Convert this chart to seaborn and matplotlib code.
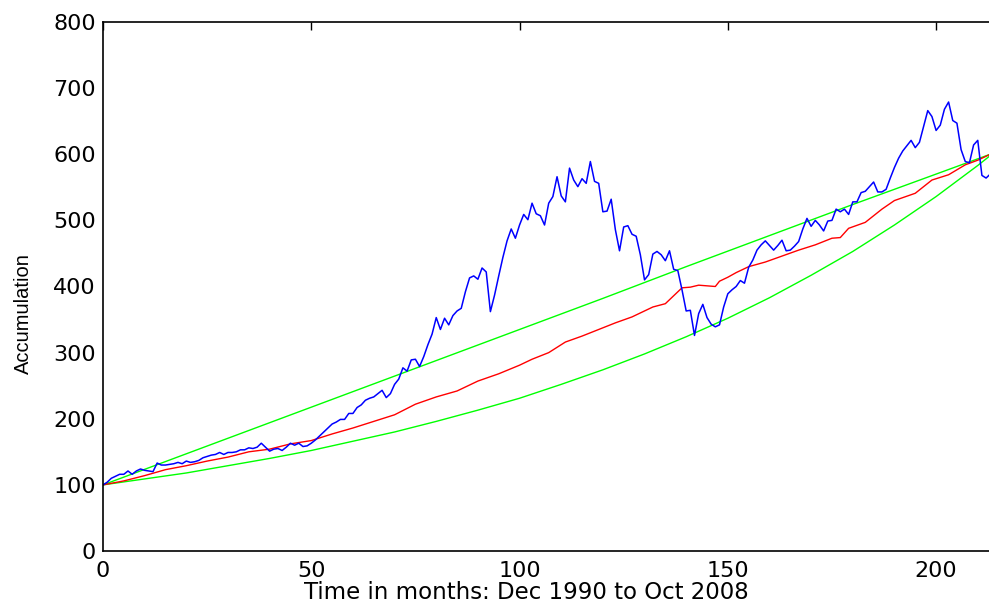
import numpy as np
import pandas as pd
import matplotlib
matplotlib.use("Agg")
import matplotlib.pyplot as plt
import seaborn as sns

# ---- data ----
blue_vals = [100, 104, 110, 113, 116, 116, 121, 116, 121, 124,
             122, 121, 120, 133, 130, 130, 131, 132, 134, 132,
             136, 134, 135, 137, 141, 143, 145, 146, 149, 146,
             149, 149, 150, 153, 153, 156, 155, 157, 163, 157,
             151, 154, 155, 152, 157, 163, 160, 163, 158, 159,
             163, 168, 174, 180, 186, 192, 195, 199, 199, 208,
             208, 217, 221, 228, 231, 233, 238, 243, 232, 238,
             252, 260, 277, 272, 289, 290, 279, 294, 312, 328,
             353, 335, 352, 342, 356, 363, 367, 392, 413, 416,
             411, 428, 422, 362, 387, 416, 444, 469, 487, 473,
             493, 509, 501, 526, 510, 507, 493, 526, 536, 566,
             537, 528, 579, 561, 551, 563, 556, 589, 559, 556,
             513, 514, 532, 486, 454, 490, 492, 479, 476, 448,
             410, 418, 449, 453, 448, 439, 454, 426, 424, 395,
             363, 364, 326, 359, 373, 353, 343, 339, 342, 369,
             389, 395, 400, 409, 405, 429, 440, 455, 463, 469,
             462, 455, 462, 470, 454, 455, 461, 468, 487, 503,
             491, 500, 493, 484, 499, 500, 517, 513, 517, 509,
             528, 528, 542, 544, 551, 558, 543, 543, 547, 564,
             580, 594, 605, 613, 621, 610, 618, 642, 666, 657,
             636, 644, 668, 679, 651, 647, 607, 589, 587, 614,
             621, 568, 564, 570]
blue_months = list(range(len(blue_vals)))

red_months = [0, 5, 10, 15, 20, 25, 30, 35, 40, 45, 50, 55, 60, 65, 70, 75,
              80, 85, 90, 95, 100, 103, 107, 111, 115, 119, 123, 127, 132,
              135, 137, 139, 141, 143, 147, 148, 150, 152, 155, 159, 163,
              167, 171, 175, 177, 179, 183, 187, 190, 195, 199, 203, 207,
              210, 213]
red_vals = [100, 106, 114, 123, 129, 136, 142, 150, 154, 162, 167, 177, 186,
            196, 206, 222, 233, 242, 257, 268, 281, 290, 300, 316, 325, 335,
            345, 354, 369, 374, 386, 398, 399, 402, 400, 408, 414, 421, 430,
            437, 446, 455, 463, 473, 474, 488, 497, 517, 530, 541, 561, 569,
            584, 591, 600]

upper_months = [0, 20, 40, 60, 80, 100, 120, 140, 160, 180, 200, 213]
upper_vals = [100, 147, 194, 241, 288, 335, 382, 430, 477, 524, 570, 600]

lower_months = [0, 10, 20, 30, 40, 50, 60, 70, 80, 90, 100, 110, 120, 130,
                140, 150, 160, 170, 180, 190, 200, 210, 213]
lower_vals = [100, 109, 118, 129, 140, 152, 166, 180, 196, 213, 231, 252, 274,
              298, 324, 352, 383, 417, 453, 493, 536, 583, 598]

x_ticks = [0, 50, 100, 150, 200]
y_ticks = [0, 100, 200, 300, 400, 500, 600, 700, 800]
x_label = "Time in months: Dec 1990 to Oct 2008"
y_label = "Accumulation"

# ---- style ----
sns.set_theme(style="white")
plt.rcParams["font.family"] = ["DejaVu Sans"]
plt.rcParams["xtick.direction"] = "in"
plt.rcParams["ytick.direction"] = "in"

fig = plt.figure(figsize=(9.89, 6.05), dpi=100)
ax = fig.add_axes([103 / 989, 54 / 605, 1 - 103 / 989, (551 - 22) / 605])

df_blue = pd.DataFrame({"m": blue_months, "v": blue_vals})
df_red = pd.DataFrame({"m": red_months, "v": red_vals})
df_up = pd.DataFrame({"m": upper_months, "v": upper_vals})
df_lo = pd.DataFrame({"m": lower_months, "v": lower_vals})

sns.lineplot(data=df_up, x="m", y="v", ax=ax, color="#00ff00", lw=1.0,
             estimator=None, sort=False)
sns.lineplot(data=df_lo, x="m", y="v", ax=ax, color="#00ff00", lw=1.0,
             estimator=None, sort=False)
sns.lineplot(data=df_red, x="m", y="v", ax=ax, color="#ff0000", lw=1.0,
             estimator=None, sort=False)
sns.lineplot(data=df_blue, x="m", y="v", ax=ax, color="#0000ff", lw=1.1,
             estimator=None, sort=False)

ax.set_xlim(0, 212.7)
ax.set_ylim(0, 800)
ax.set_xticks(x_ticks)
ax.set_yticks(y_ticks)
ax.tick_params(axis="both", which="major", labelsize=16, length=6, width=1,
               color="black", labelcolor="black", top=True, right=False,
               direction="in", pad=5)
ax.tick_params(axis="x", pad=7)
for side in ["left", "bottom", "top"]:
    ax.spines[side].set_visible(True)
    ax.spines[side].set_color("black")
    ax.spines[side].set_linewidth(1.2)
ax.spines["right"].set_visible(False)

ax.set_xlabel(x_label, fontsize=16.5, color="black")
ax.set_ylabel(y_label, fontsize=14.5, color="black",
              family=["Liberation Sans", "DejaVu Sans"])
ax.xaxis.set_label_coords(0.4774, -0.057)
ax.yaxis.set_label_coords(-0.079, 0.448)

fig.savefig("out.png", dpi=100)
